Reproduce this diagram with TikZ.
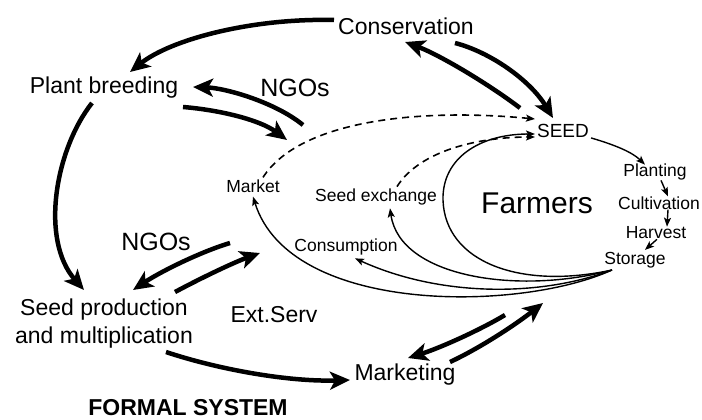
\documentclass[tikz,border=0pt]{standalone}
\usepackage{fontspec}
\setmainfont{Liberation Sans}
\usetikzlibrary{arrows.meta}
\tikzset{
  lblbig/.style={font=\fontsize{23}{28}\selectfont, inner sep=0pt},
  lblngo/.style={font=\fontsize{25}{28}\selectfont, inner sep=0pt},
  lblsm/.style={font=\fontsize{17.5}{20}\selectfont, inner sep=0pt},
  lblseed/.style={font=\fontsize{19}{22}\selectfont, inner sep=0pt},
  lblfarm/.style={font=\fontsize{30}{34}\selectfont, inner sep=0pt},
  lblbold/.style={font=\fontsize{23}{28}\selectfont\bfseries, inner sep=0pt},
  thk/.style={line width=4.5pt, -{Stealth[length=20pt,width=18pt,inset=5pt]}},
  thn/.style={line width=1.4pt, -{Stealth[length=9pt,width=7pt,inset=2pt]}},
  dsh/.style={line width=1.6pt, dash pattern=on 7pt off 5pt, -{Stealth[length=9pt,width=7pt,inset=2pt]}}
}
\begin{document}
\begin{tikzpicture}[x=1pt,y=-1pt]
\useasboundingbox (0,0) rectangle (702,420);
% labels
\node[lblbig] (cons) at (406,26) {Conservation};
\node[lblbig] (pb) at (104,88) {Plant breeding};
\node[lblngo] (ngoA) at (295,88) {NGOs};
\node[lblseed] (seed) at (563,131) {SEED};
\node[lblsm] (plant) at (655,172) {Planting};
\node[lblsm] (cult) at (659,203) {Cultivation};
\node[lblsm] (harv) at (656,233) {Harvest};
\node[lblsm] (stor) at (635,260) {Storage};
\node[lblfarm] (farm) at (537,203) {Farmers};
\node[lblsm] (sx) at (376,197) {Seed exchange};
\node[lblsm] (mkt) at (253,186) {Market};
\node[lblsm] (cmp) at (346,247) {Consumption};
\node[lblngo] (ngoB) at (156,242) {NGOs};
\node[lblbig, align=center] (sp) at (104,324) {Seed production\\and multiplication};
\node[lblbig] (ext) at (274,315) {Ext.Serv};
\node[lblbold] (formal) at (188,408) {FORMAL SYSTEM};
\node[lblbig] (mktg) at (405,375) {Marketing};
% end points
\coordinate (c1s) at (334,20);  \coordinate (c1e) at (130,72);
\coordinate (c2s) at (520,108); \coordinate (c2e) at (405,42);
\coordinate (c3s) at (455,43);  \coordinate (c3e) at (553,118);
\coordinate (n1s) at (303,125); \coordinate (n1e) at (193,87);
\coordinate (n2s) at (183,107); \coordinate (n2e) at (287,140);
\coordinate (p1s) at (92,103);  \coordinate (p1e) at (84,290);
\coordinate (n3s) at (230,243); \coordinate (n3e) at (133,290);
\coordinate (n4s) at (175,292); \coordinate (n4e) at (260,253);
\coordinate (m1s) at (166,352); \coordinate (m1e) at (350,380);
\coordinate (m2s) at (505,315); \coordinate (m2e) at (408,358);
\coordinate (m3s) at (450,362); \coordinate (m3e) at (543,303);
\coordinate (hub) at (612,270);
\coordinate (seedin1) at (535,119);
\coordinate (seedin2) at (535,137);
\coordinate (seedin3) at (535,134);
% thick arrows
\draw[thk] (c1s) .. controls (250,18) and (170,40) .. (c1e);
\draw[thk] (c2s) .. controls (490,85) and (440,55) .. (c2e);
\draw[thk] (c3s) .. controls (490,52) and (530,80) .. (c3e);
\draw[thk] (n1s) .. controls (275,102) and (225,88) .. (n1e);
\draw[thk] (n2s) .. controls (220,110) and (260,120) .. (n2e);
\draw[thk] (p1s) .. controls (55,150) and (40,240) .. (p1e);
\draw[thk] (n3s) .. controls (200,252) and (160,272) .. (n3e);
\draw[thk] (n4s) .. controls (205,276) and (235,262) .. (n4e);
\draw[thk] (m1s) .. controls (220,370) and (290,382) .. (m1e);
\draw[thk] (m2s) .. controls (480,330) and (440,348) .. (m2e);
\draw[thk] (m3s) .. controls (480,348) and (515,325) .. (m3e);
% thin arrows on the right
\draw[thn] ([xshift=2pt]seed.south east) .. controls (615,145) and (632,152) .. ([xshift=-10pt,yshift=-1pt]plant.north);
\draw[thn] ([xshift=6pt]plant.south) -- ([xshift=9pt]cult.north);
\draw[thn] ([xshift=9pt]cult.south) -- ([xshift=11pt]harv.north);
\draw[thn] ([xshift=1pt]harv.south) -- ([xshift=10pt,yshift=2pt]stor.north);
% farmers loop and fan of curves
\draw[thn] (hub) .. controls (520,290) and (445,262) .. (443,200)
  .. controls (442,158) and (480,134) .. (seedin3);
\draw[thn] (hub) .. controls (520,295) and (400,278) .. ([xshift=14pt,yshift=-3pt]sx.south);
\draw[thn] (hub) .. controls (540,297) and (440,297) .. ([xshift=9pt,yshift=-3pt]cmp.south);
\draw[thn] (hub) .. controls (520,312) and (290,315) .. ([yshift=-4pt]mkt.south);
% dashed
\draw[dsh] ([xshift=10pt,yshift=2pt]mkt.north) .. controls (300,120) and (420,108) .. (seedin1);
\draw[dsh] ([xshift=21pt,yshift=2pt]sx.north) .. controls (420,150) and (480,137) .. (seedin2);
\end{tikzpicture}
\end{document}
